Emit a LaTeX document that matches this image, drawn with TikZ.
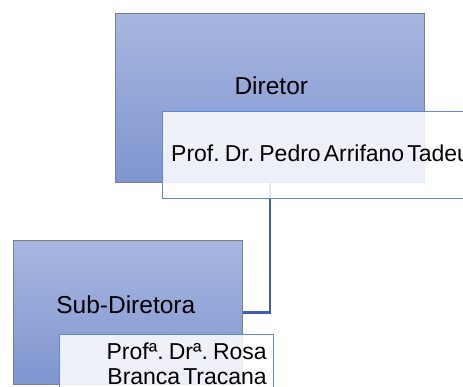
\documentclass[tikz,border=0pt]{standalone}
\usepackage{fontspec}
\setmainfont{Liberation Sans}
\definecolor{boxtop}{HTML}{A8B7E0}
\definecolor{boxbot}{HTML}{7F95D0}
\definecolor{boxedge}{HTML}{7A7F88}
\definecolor{nameedge}{HTML}{5C88D8}
\definecolor{connblue}{HTML}{3D5FAE}
\newcommand\mytightfont{\fontsize{23}{26}\selectfont\spaceskip=0.13em plus 0.03em\relax}
\tikzset{
  rolebox/.style={rectangle, draw=boxedge, line width=1pt, top color=boxtop, bottom color=boxbot, anchor=north west, inner sep=0pt},
  namebox/.style={rectangle, draw=nameedge, line width=1pt, fill=white, fill opacity=0.86, text opacity=1, anchor=north west, inner sep=0pt},
  roletext/.style={font=\fontsize{24.5}{28}\selectfont, inner sep=0pt, anchor=base},
  nametext/.style={font=\mytightfont, inner sep=0pt, text opacity=1},
  conn/.style={draw=connblue, line width=2.2pt}
}
\begin{document}
\begin{tikzpicture}[x=1pt,y=-1pt]
\useasboundingbox (0,0) rectangle (463,386);
\clip (0,0) rectangle (463,386);
% Director
\node[rolebox, minimum width=309pt, minimum height=169pt] (dir) at (115,13) {};
\node[roletext] (dirlbl) at (271.3,94.3) {Diretor};
% Sub-director box
\node[rolebox, minimum width=229pt, minimum height=144pt] (sub) at (13,240) {};
\node[roletext] (sublbl) at (125.8,313.3) {Sub-Diretora};
% connector
\draw[conn] (dir.south) |- (sub.east);
% name boxes
\node[namebox, minimum width=320pt, minimum height=87pt] (dirname) at (162,111) {};
\node[nametext, anchor=base west] (dirnamelbl) at (171,161) {Prof. Dr. Pedro Arrifano Tadeu};
\node[namebox, minimum width=214pt, minimum height=70pt] (subname) at (59,334) {};
\node[nametext, anchor=base east] (subname1) at (267,359) {Profª. Drª. Rosa};
\node[nametext, anchor=base east] (subname2) at (267,384) {Branca Tracana};
\end{tikzpicture}
\end{document}
